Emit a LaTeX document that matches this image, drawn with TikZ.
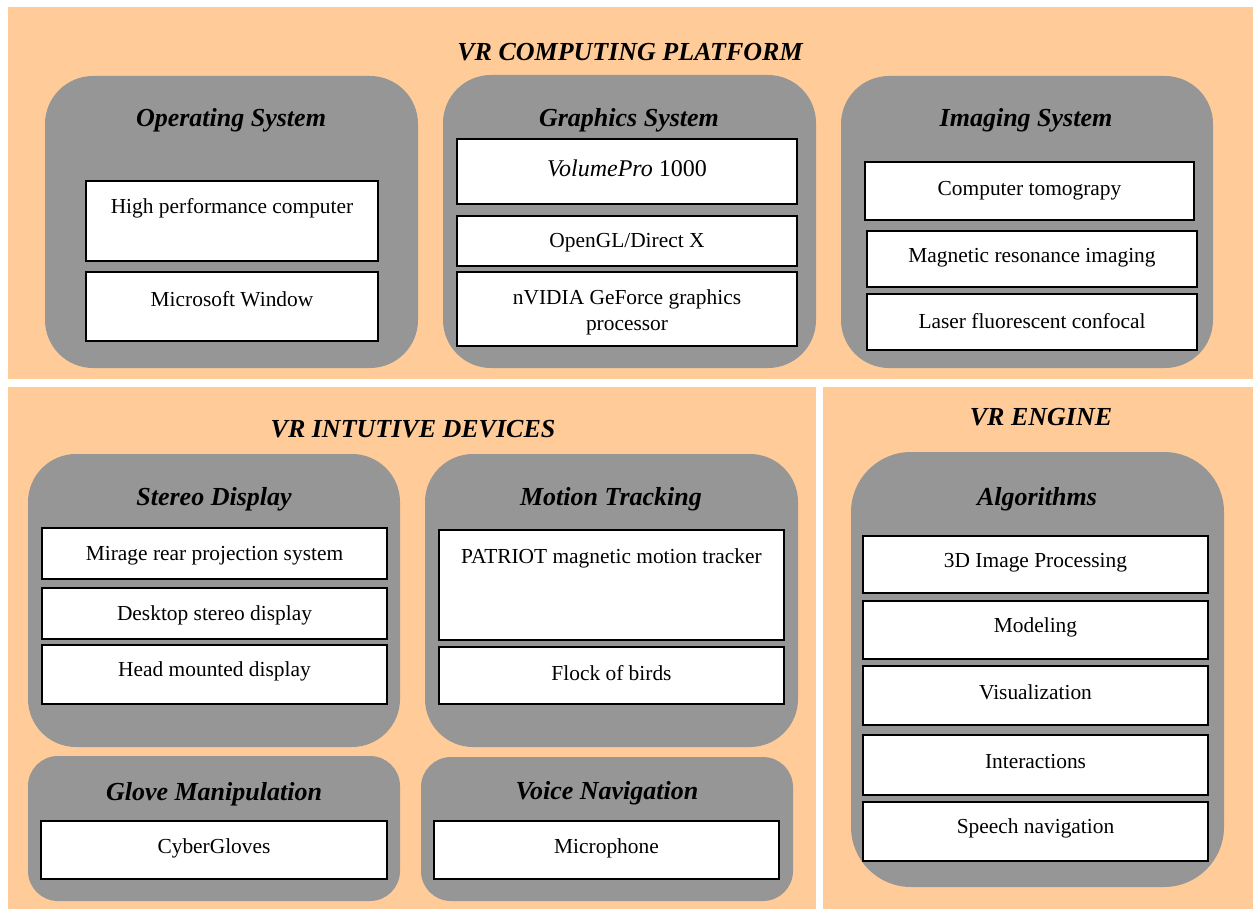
\documentclass[tikz,border=0pt]{standalone}
\usepackage{fontspec}
\setmainfont{Liberation Serif}
\usetikzlibrary{fit}
\definecolor{peach}{RGB}{255,204,153}
\definecolor{gbox}{RGB}{150,150,150}
\begin{document}
\begin{tikzpicture}[x=0.5pt,y=-0.5pt,
  panel/.style={fill=peach,draw=none,inner sep=0pt},
  group/.style={fill=gbox,draw=none,inner sep=0pt,rounded corners=#1},
  group/.default=24pt,
  item/.style={fill=white,draw=black,line width=1pt,inner sep=0pt},
  ttl/.style={font=\fontsize{13}{15}\selectfont\bfseries\itshape,inner sep=0pt,yshift=-1.2pt},
  bt/.style={font=\fontsize{10.7}{13}\selectfont,inner sep=0pt,align=center,yshift=-1.2pt}]
\useasboundingbox (0,0) rectangle (1253,909);
\fill[white] (0,0) rectangle (1253,909);

% panels
\node[panel,fit={(8,7) (1253,379)}] (top) {};
\node[panel,fit={(8,387) (816,909)}] (devs) {};
\node[panel,fit={(823,387) (1253,909)}] (eng) {};

\node[ttl] (ttop) at (630,50) {VR COMPUTING PLATFORM};
\node[ttl] (tdev) at (413,427) {VR INTUTIVE DEVICES};
\node[ttl] (teng) at (1041,415) {VR ENGINE};

% groups
\node[group,fit={(45,76) (418,368)}] (os) {};
\node[ttl] (os-t) at (231,118) {Operating System};
\node[group,fit={(443,75) (816,368)}] (gs) {};
\node[ttl] (gs-t) at (629,118) {Graphics System};
\node[group,fit={(841,76) (1213,368)}] (is) {};
\node[ttl] (is-t) at (1026,118) {Imaging System};
\node[group,fit={(28,454) (400,747)}] (sd) {};
\node[ttl] (sd-t) at (214,497) {Stereo Display};
\node[group,fit={(425,454) (798,747)}] (mt) {};
\node[ttl] (mt-t) at (611,497) {Motion Tracking};
\node[group=15pt,fit={(28,756) (400,901)}] (gm) {};
\node[ttl] (gm-t) at (214,792) {Glove Manipulation};
\node[group=15pt,fit={(421,757) (793,901)}] (vn) {};
\node[ttl] (vn-t) at (607,791) {Voice Navigation};
\node[group=30pt,fit={(851,452) (1224,887)}] (alg) {};
\node[ttl] (alg-t) at (1037,497) {Algorithms};

% items: operating system
\node[item,fit={(86,181) (378,261)}] (os1) {};
\node[bt] at (os1.north |- 0,206) {High performance computer};
\node[item,fit={(86,272) (378,341)}] (os2) {};
\node[bt] at (os2.north |- 0,297) {Microsoft Window};
% graphics system
\node[item,fit={(457,139) (797,204)}] (gs1) {};
\node[bt,font=\fontsize{12}{14}\selectfont] at (gs1.north |- 0,166) {\textit{VolumePro} 1000};
\node[item,fit={(457,216) (797,266)}] (gs2) {};
\node[bt] at (gs2.north |- 0,240) {OpenGL/Direct X};
\node[item,fit={(457,272) (797,346)}] (gs3) {};
\node[bt] at (gs3.north |- 0,310) {nVIDIA GeForce graphics\\processor};
% imaging system
\node[item,fit={(865,162) (1194,220)}] (is1) {};
\node[bt] at (is1.north |- 0,188) {Computer tomograpy};
\node[item,fit={(867,231) (1197,287)}] (is2) {};
\node[bt] at (is2.north |- 0,255) {Magnetic resonance imaging};
\node[item,fit={(867,294) (1197,350)}] (is3) {};
\node[bt] at (is3.north |- 0,319) {Laser fluorescent confocal};
% stereo display
\node[item,fit={(42,528) (387,579)}] (sd1) {};
\node[bt] at (sd1.north |- 0,553) {Mirage rear projection system};
\node[item,fit={(42,588) (387,639)}] (sd2) {};
\node[bt] at (sd2.north |- 0,613) {Desktop stereo display};
\node[item,fit={(42,645) (387,704)}] (sd3) {};
\node[bt] at (sd3.north |- 0,669) {Head mounted display};
% motion tracking
\node[item,fit={(439,530) (784,640)}] (mt1) {};
\node[bt] at (mt1.north |- 0,556) {PATRIOT magnetic motion tracker};
\node[item,fit={(439,647) (784,704)}] (mt2) {};
\node[bt] at (mt2.north |- 0,671) {Flock of birds};
% glove / voice
\node[item,fit={(41,821) (387,879)}] (gm1) {};
\node[bt] at (gm1.north |- 0,846) {CyberGloves};
\node[item,fit={(434,821) (779,879)}] (vn1) {};
\node[bt] at (vn1.north |- 0,846) {Microphone};
% algorithms
\node[item,fit={(863,536) (1208,593)}] (al1) {};
\node[bt] at (al1.north |- 0,560) {3D Image Processing};
\node[item,fit={(863,601) (1208,659)}] (al2) {};
\node[bt] at (al2.north |- 0,625) {Modeling};
\node[item,fit={(863,666) (1208,725)}] (al3) {};
\node[bt] at (al3.north |- 0,690) {Visualization};
\node[item,fit={(863,735) (1208,795)}] (al4) {};
\node[bt] at (al4.north |- 0,759) {Interactions};
\node[item,fit={(863,802) (1208,861)}] (al5) {};
\node[bt] at (al5.north |- 0,826) {Speech navigation};
\end{tikzpicture}
\end{document}
